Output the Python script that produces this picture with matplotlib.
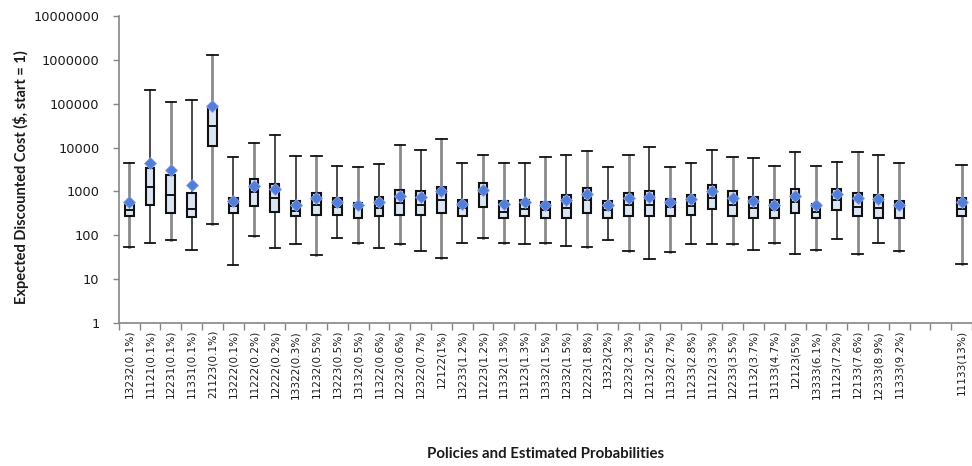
import numpy as np
import matplotlib
matplotlib.use("Agg")
import matplotlib.pyplot as plt

nan = np.nan

labels = ["13232(0.1%)", "11121(0.1%)", "12231(0.1%)", "11331(0.1%)", "21123(0.1%)",
          "13222(0.1%)", "11222(0.2%)", "12222(0.2%)", "13322(0.3%)", "11232(0.5%)",
          "13223(0.5%)", "13132(0.5%)", "11322(0.6%)", "12232(0.6%)", "12322(0.7%)",
          "12122(1%)", "13233(1.2%)", "11223(1.2%)", "11332(1.3%)", "13123(1.3%)",
          "13332(1.5%)", "12332(1.5%)", "12223(1.8%)", "13323(2%)", "12323(2.3%)",
          "12132(2.5%)", "11323(2.7%)", "11233(2.8%)", "11122(3.3%)", "12233(3.5%)",
          "11132(3.7%)", "13133(4.7%)", "12123(5%)", "13333(6.1%)", "11123(7.2%)",
          "12133(7.6%)", "12333(8.9%)", "11333(9.2%)", "", "", "11133(13%)"]

whisker_high = [4370, 205000, 110000, 123000, 1320000, 6000, 12800, 19800, 6300, 6300,
                3880, 3540, 4170, 11300, 8900, 15800, 4370, 6760, 4370, 4370,
                6200, 6760, 8400, 3540, 6760, 10500, 3540, 4370, 8900, 6200,
                5770, 3800, 7800, 3800, 4700, 7800, 6760, 4370, nan, nan, 4070]
quartile3 = [490, 3400, 2340, 913, 83700, 725, 1870, 1500, 590, 913,
             705, 540, 740, 1050, 1000, 1235, 645, 1550, 590, 645,
             560, 835, 1210, 590, 915, 1000, 680, 835, 1400, 1000,
             740, 620, 1125, 520, 1125, 915, 835, 610, nan, nan, 725]
median = [367, 1240, 810, 400, 30200, 460, 950, 705, 362, 495,
          430, 415, 415, 540, 495, 620, 415, 890, 347, 395,
          367, 415, 645, 367, 485, 485, 430, 455, 690, 495,
          415, 367, 560, 336, 645, 445, 415, 415, nan, nan, 400]
quartile1 = [272, 490, 324, 258, 11100, 315, 455, 340, 277, 292,
             292, 253, 272, 292, 292, 315, 272, 445, 253, 272,
             253, 253, 315, 253, 272, 272, 272, 292, 395, 272,
             253, 253, 315, 253, 374, 272, 253, 253, nan, nan, 272]
whisker_low = [54, 68, 77, 47, 185, 21, 95, 50, 62, 36,
               88, 66, 50, 62, 44, 31, 66, 88, 66, 62,
               66, 57, 54, 78, 44, 29, 41, 62, 62, 62,
               47, 66, 38, 47, 83, 38, 66, 44, nan, nan, 22]
mean = [570, 4370, 3030, 1400, 87000, 610, 1320, 1125, 495, 705,
        570, 485, 580, 795, 755, 1000, 510, 1070, 520, 560,
        485, 645, 890, 485, 705, 755, 580, 665, 1000, 705,
        600, 485, 795, 480, 870, 705, 660, 485, nan, nan, 580]

# rendering look of whisker lines in the reference (G = soft grey, K = black)
whisker_look = "GKGKGKGKKGKGKGKGKGGKGKGKGKGKKGKGKGKGKGG"

fig = plt.figure(figsize=(9.72, 4.66), dpi=100)
ax = fig.add_axes([0.1222, 0.307, 0.8778, 0.6587])

stats = []
positions = []
for i in range(len(labels)):
    if np.isnan(median[i]):
        continue
    stats.append(dict(whislo=whisker_low[i], q1=quartile1[i], med=median[i],
                      q3=quartile3[i], whishi=whisker_high[i], mean=mean[i],
                      fliers=[]))
    positions.append(i)

art = ax.bxp(stats, positions=positions, widths=0.42, patch_artist=True,
             showmeans=True, showfliers=False, capwidths=0.5,
             boxprops=dict(facecolor="#dce6f2", edgecolor="#111111", linewidth=1.5, zorder=3),
             medianprops=dict(color="#111111", linewidth=1.4, zorder=4),
             whiskerprops=dict(color="#222222", linewidth=1.0, zorder=2),
             capprops=dict(color="#111111", linewidth=1.3, zorder=2),
             meanprops=dict(marker="D", markerfacecolor="#4f7fd8", markeredgecolor="#8f9de8",
                            markeredgewidth=0.6, markersize=5.8, zorder=5))

for k, look in enumerate(whisker_look):
    for w in art["whiskers"][2 * k:2 * k + 2]:
        if look == "G":
            w.set_color("#8a8a8a")
            w.set_linewidth(2.0)
        else:
            w.set_color("#1a1a1a")
            w.set_linewidth(1.1)

ax.set_yscale("log")
ax.set_ylim(1, 1e7)
ax.set_xlim(-0.5, 40.17)
ax.set_yticks([10 ** k for k in range(8)])
ax.set_yticklabels([str(10 ** k) for k in range(8)])
ax.yaxis.set_minor_locator(matplotlib.ticker.NullLocator())

ax.set_xticks(range(len(labels)))
ax.set_xticklabels(labels, rotation=90, fontsize=7.6, family="DejaVu Sans", color="#1a1a1a")
ax.set_xticks(np.arange(-0.5, len(labels) + 0.5, 1.0), minor=True)
ax.tick_params(axis="x", which="major", length=0, pad=5)
ax.tick_params(axis="x", which="minor", length=5, color="#868686", width=1)
ax.tick_params(axis="y", which="major", length=4, color="#868686", width=1,
               labelsize=9.3, labelcolor="#1a1a1a", pad=10)

for s in ["top", "right"]:
    ax.spines[s].set_visible(False)
for s in ["left", "bottom"]:
    ax.spines[s].set_color("#868686")
    ax.spines[s].set_linewidth(1.2)

ax.set_ylabel("Expected Discounted Cost ($, start = 1)", family="Lato", fontweight="bold",
              fontsize=10.5, color="#1a1a1a")
ax.yaxis.set_label_coords(-0.105, 0.475)
fig.text(0.561, 0.010, "Policies and Estimated Probabilities", family="Lato",
         fontweight="bold", fontsize=10.8, color="#1a1a1a", ha="center", va="bottom")

fig.savefig("out.png", dpi=100)
